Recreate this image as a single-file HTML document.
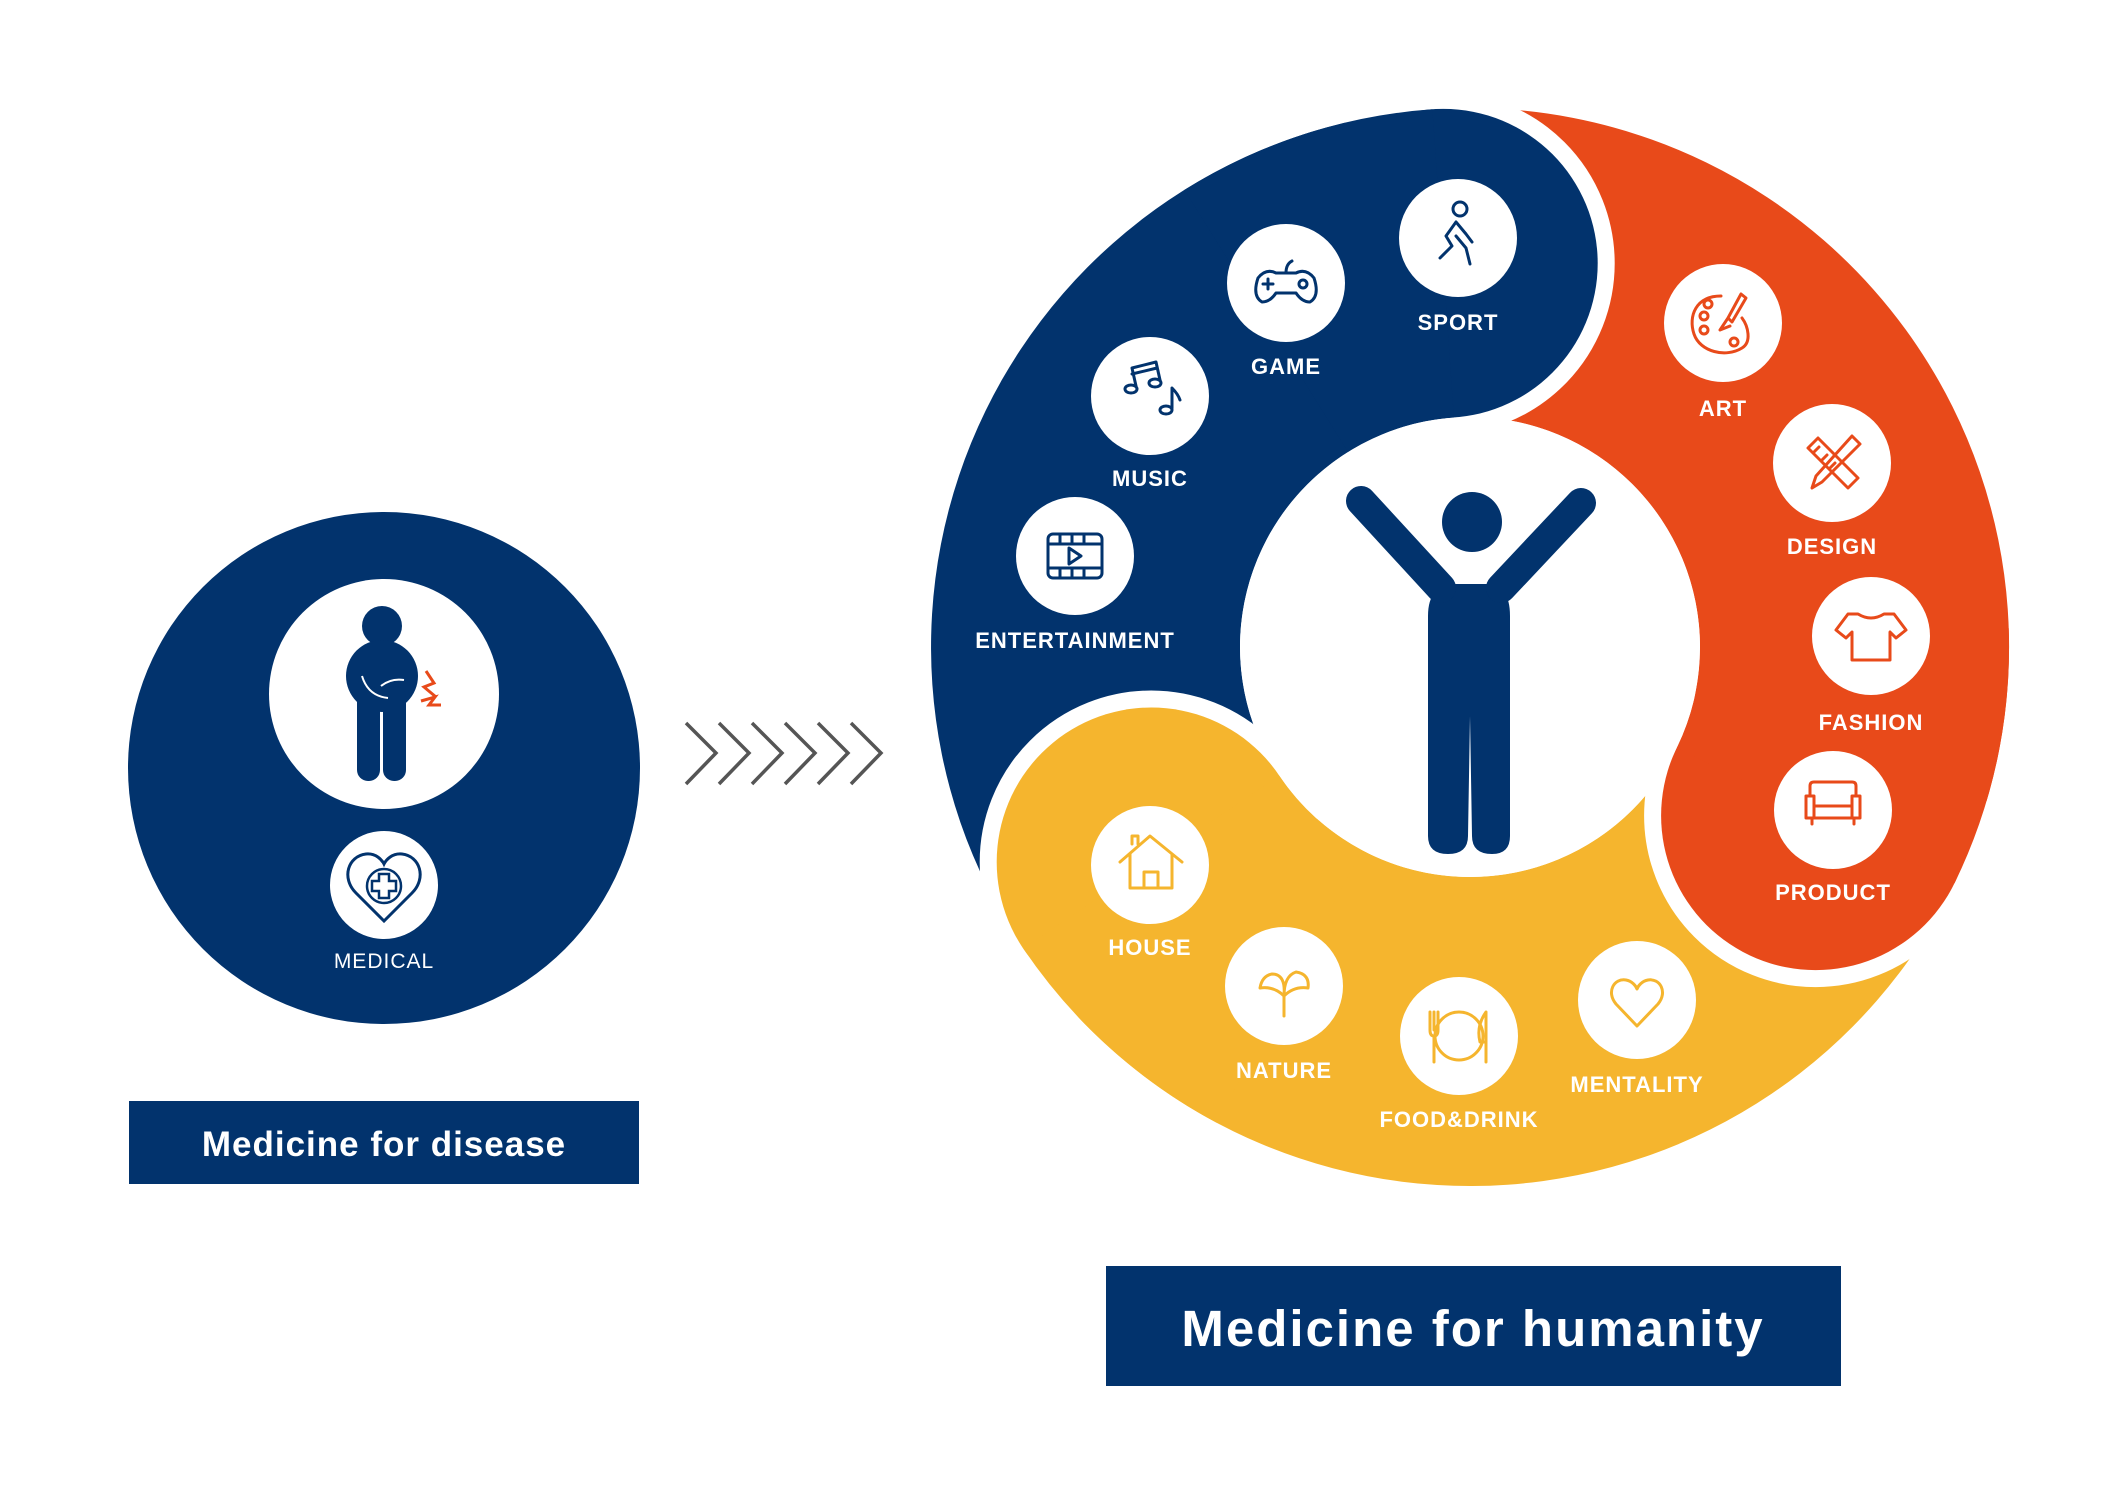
<!DOCTYPE html>
<html><head><meta charset="utf-8"><style>
html,body{margin:0;padding:0;background:#fff;}
svg{display:block;}
.lb{font-family:"Liberation Sans",sans-serif;font-weight:bold;font-size:22px;fill:#fff;text-anchor:middle;letter-spacing:1px;}
</style></head><body>
<svg width="2101" height="1486" viewBox="0 0 2101 1486" xmlns="http://www.w3.org/2000/svg">
<rect width="2101" height="1486" fill="#fff"/>
<g transform="translate(-4,-4)">
<!-- LEFT -->
<circle cx="388" cy="772" r="256" fill="#02336d"/>
<circle cx="388" cy="698" r="115" fill="#fff"/>
<circle cx="386" cy="630" r="20" fill="#02336d"/>
<ellipse cx="386" cy="680" rx="36" ry="36" fill="#02336d"/>
<rect x="361" y="690" width="23" height="95" rx="11" fill="#02336d"/>
<rect x="387" y="690" width="23" height="95" rx="11" fill="#02336d"/>
<path d="M366 680 Q372 700 392 702 M385 690 Q395 682 408 684" stroke="#fff" stroke-width="2" fill="none"/>
<path d="M430 675 l8 12 l-10 4 l12 10 M425 705 l14 -4 l-6 8 l12 0" stroke="#e84a1a" stroke-width="3" fill="none"/>
<circle cx="388" cy="889" r="54" fill="#fff"/>
<path d="M388 925 L360 897 C345 882 352 860 370 858 C380 857 386 864 388 868 C390 864 396 857 406 858 C424 860 431 882 416 897 Z" fill="none" stroke="#02336d" stroke-width="3"/>
<circle cx="388" cy="890" r="17" fill="none" stroke="#02336d" stroke-width="2.5"/>
<path d="M383 878h10v7h7v10h-7v7h-10v-7h-7v-10h7z" fill="none" stroke="#02336d" stroke-width="2.5"/>
<text x="388" y="972" font-family="Liberation Sans,sans-serif" font-size="21" fill="#fff" text-anchor="middle" letter-spacing="1">MEDICAL</text>
<rect x="133" y="1105" width="510" height="83" fill="#02336d"/>
<text x="388" y="1160" font-family="Liberation Sans,sans-serif" font-weight="bold" font-size="35" fill="#fff" text-anchor="middle" letter-spacing="1">Medicine for disease</text>

<g stroke="#555" stroke-width="3.5" fill="none">
<path d="M690 727 L720 757 L690 788"/>
<path d="M723 727 L753 757 L723 788"/>
<path d="M756 727 L786 757 L756 788"/>
<path d="M789 727 L819 757 L789 788"/>
<path d="M822 727 L852 757 L822 788"/>
<path d="M855 727 L885 757 L855 788"/>
</g>

<!-- RING -->
<path d="M1027.2 952.4 A539 539 0 0 1 1436.4 113.3 L1457.9 421.6 A230 230 0 0 0 1283.3 779.6 Z" fill="#02336d"/>
<path d="M1436.4 113.3 A539 539 0 0 1 1958.5 887.3 L1680.7 751.8 A230 230 0 0 0 1457.9 421.6 Z" fill="#e84a1a"/>
<path d="M1958.5 887.3 A539 539 0 0 1 1027.2 952.4 L1283.3 779.6 A230 230 0 0 0 1680.7 751.8 Z" fill="#f5b52e"/>
<circle cx="1447.2" cy="267.4" r="154.5" fill="#fff" stroke="#fff" stroke-width="34"/>
<circle cx="1447.2" cy="267.4" r="154.5" fill="#02336d"/>
<path d="M1188.4 193.9 A539 539 0 0 1 1436.4 113.3 L1457.9 421.6 A230 230 0 0 0 1352.1 456.0 Z" fill="#02336d"/>
<circle cx="1819.6" cy="819.6" r="154.5" fill="#fff" stroke="#fff" stroke-width="34"/>
<circle cx="1819.6" cy="819.6" r="154.5" fill="#e84a1a"/>
<path d="M2012.7 632.2 A539 539 0 0 1 1958.5 887.3 L1680.7 751.8 A230 230 0 0 0 1703.9 643.0 Z" fill="#e84a1a"/>
<circle cx="1155.2" cy="866.0" r="154.5" fill="#fff" stroke="#fff" stroke-width="34"/>
<circle cx="1155.2" cy="866.0" r="154.5" fill="#f5b52e"/>
<path d="M1220.9 1126.9 A539 539 0 0 1 1027.2 952.4 L1283.3 779.6 A230 230 0 0 0 1366.0 854.1 Z" fill="#f5b52e"/>
<circle cx="1474" cy="651" r="230" fill="#fff"/>

<g fill="#02336d">
<circle cx="1476" cy="526" r="30"/>
<path d="M1432 620 Q1432 588 1460 588 L1490 588 Q1514 588 1514 620 L1514 840 Q1514 858 1496 858 Q1476 858 1476 840 L1474 720 L1472 840 Q1472 858 1452 858 Q1432 858 1432 840 Z"/>
</g>
<path d="M1365 505 L1445 592 M1585 507 L1505 592" stroke="#02336d" stroke-width="30" stroke-linecap="round" fill="none"/>

<g fill="#fff">
<circle cx="1462" cy="242" r="59"/><circle cx="1290" cy="287" r="59"/>
<circle cx="1154" cy="400" r="59"/><circle cx="1079" cy="560" r="59"/>
<circle cx="1727" cy="327" r="59"/><circle cx="1836" cy="467" r="59"/>
<circle cx="1875" cy="640" r="59"/><circle cx="1837" cy="814" r="59"/>
<circle cx="1154" cy="869" r="59"/><circle cx="1288" cy="990" r="59"/>
<circle cx="1463" cy="1040" r="59"/><circle cx="1641" cy="1004" r="59"/>
</g>

<g stroke="#02336d" stroke-width="3" fill="none" stroke-linecap="round" stroke-linejoin="round">
<circle cx="1464" cy="213" r="7"/>
<path d="M1460 226 L1450 240 L1456 250 L1444 262 M1460 226 L1470 238 L1476 246 M1460 240 L1470 252 L1474 268"/>
<path d="M1262 282 Q1270 272 1280 277 L1300 277 Q1310 272 1318 282 Q1324 300 1314 306 Q1306 306 1300 297 L1280 297 Q1274 306 1266 306 Q1256 300 1262 282 Z"/>
<path d="M1290 277 Q1290 268 1296 265"/>
<path d="M1267 288 h10 M1272 283 v10"/><circle cx="1307" cy="288" r="4"/>
<path d="M1140 390 L1136 372 L1160 366 L1164 384 M1136 378 L1161 372"/>
<ellipse cx="1135" cy="393" rx="6" ry="4"/><ellipse cx="1159" cy="387" rx="6" ry="4"/>
<ellipse cx="1170" cy="414" rx="6" ry="4"/><path d="M1176 412 L1176 392 Q1182 398 1184 404"/>
<rect x="1052" y="538" width="54" height="44" rx="5"/>
<path d="M1052 548 h54 M1052 572 h54 M1064 538 v10 M1076 538 v10 M1088 538 v10 M1064 572 v10 M1076 572 v10 M1088 572 v10"/>
<path d="M1073 552 L1085 560 L1073 568 Z"/>
</g>

<g stroke="#e84a1a" stroke-width="3" fill="none" stroke-linecap="round" stroke-linejoin="round">
<path d="M1725 300 C1700 300 1692 320 1698 338 C1704 356 1730 362 1746 352 C1756 346 1752 330 1746 322"/>
<circle cx="1708" cy="320" r="4"/><circle cx="1712" cy="308" r="4"/><circle cx="1708" cy="334" r="4"/><circle cx="1738" cy="346" r="4"/>
<path d="M1745 298 L1732 322 L1736 326 L1750 302 Z M1732 322 L1724 334 L1734 330"/>
<path d="M1812 452 L1822 442 L1862 482 L1852 492 Z M1818 456 l5 -5 M1826 464 l5 -5 M1834 472 l5 -5"/>
<path d="M1856 440 L1864 448 L1826 486 L1816 492 L1820 480 Z"/>
<path d="M1852 618 L1862 618 Q1875 626 1888 618 L1898 618 L1910 634 L1900 642 L1894 636 L1894 664 L1856 664 L1856 636 L1850 642 L1840 634 Z"/>
<path d="M1814 800 L1814 790 Q1814 786 1818 786 L1856 786 Q1860 786 1860 790 L1860 800 M1810 800 h8 v22 h-8 Z M1856 800 h8 v22 h-8 Z M1818 810 h38 M1810 822 h54 M1816 822 v6 M1858 822 v6"/>
</g>

<g stroke="#f5b52e" stroke-width="3" fill="none" stroke-linecap="round" stroke-linejoin="round">
<path d="M1124 866 L1154 840 L1186 866 M1134 858 L1134 892 L1176 892 L1176 858 M1148 892 L1148 876 L1162 876 L1162 892 M1136 848 L1136 840 L1142 840 L1142 848"/>
<path d="M1288 1020 L1288 1000 Q1278 990 1264 992 Q1266 980 1276 978 Q1290 978 1288 1000 M1288 1000 Q1298 990 1312 992 Q1314 978 1300 976 Q1288 980 1288 1000"/>
<circle cx="1463" cy="1040" r="24"/>
<path d="M1434 1016 L1434 1034 Q1434 1040 1438 1040 L1438 1066 M1438 1016 V1034 M1442 1016 L1442 1034 Q1442 1040 1438 1040"/>
<path d="M1490 1066 L1490 1016 Q1480 1030 1484 1046 L1490 1046"/>
<path d="M1641 1030 L1620 1008 C1610 996 1618 982 1630 984 C1636 985 1640 990 1641 993 C1642 990 1646 985 1652 984 C1664 982 1672 996 1662 1008 Z"/>
</g>

<text class="lb" x="1462" y="334">SPORT</text>
<text class="lb" x="1290" y="378">GAME</text>
<text class="lb" x="1154" y="490">MUSIC</text>
<text class="lb" x="1079" y="652">ENTERTAINMENT</text>
<text class="lb" x="1727" y="420">ART</text>
<text class="lb" x="1836" y="558">DESIGN</text>
<text class="lb" x="1875" y="734">FASHION</text>
<text class="lb" x="1837" y="904">PRODUCT</text>
<text class="lb" x="1154" y="959">HOUSE</text>
<text class="lb" x="1288" y="1082">NATURE</text>
<text class="lb" x="1463" y="1131">FOOD&amp;DRINK</text>
<text class="lb" x="1641" y="1096">MENTALITY</text>

<rect x="1110" y="1270" width="735" height="120" fill="#02336d"/>
<text x="1477" y="1350" font-family="Liberation Sans,sans-serif" font-weight="bold" font-size="51" fill="#fff" text-anchor="middle" letter-spacing="2">Medicine for humanity</text>
</g>
</svg>
</body></html>
